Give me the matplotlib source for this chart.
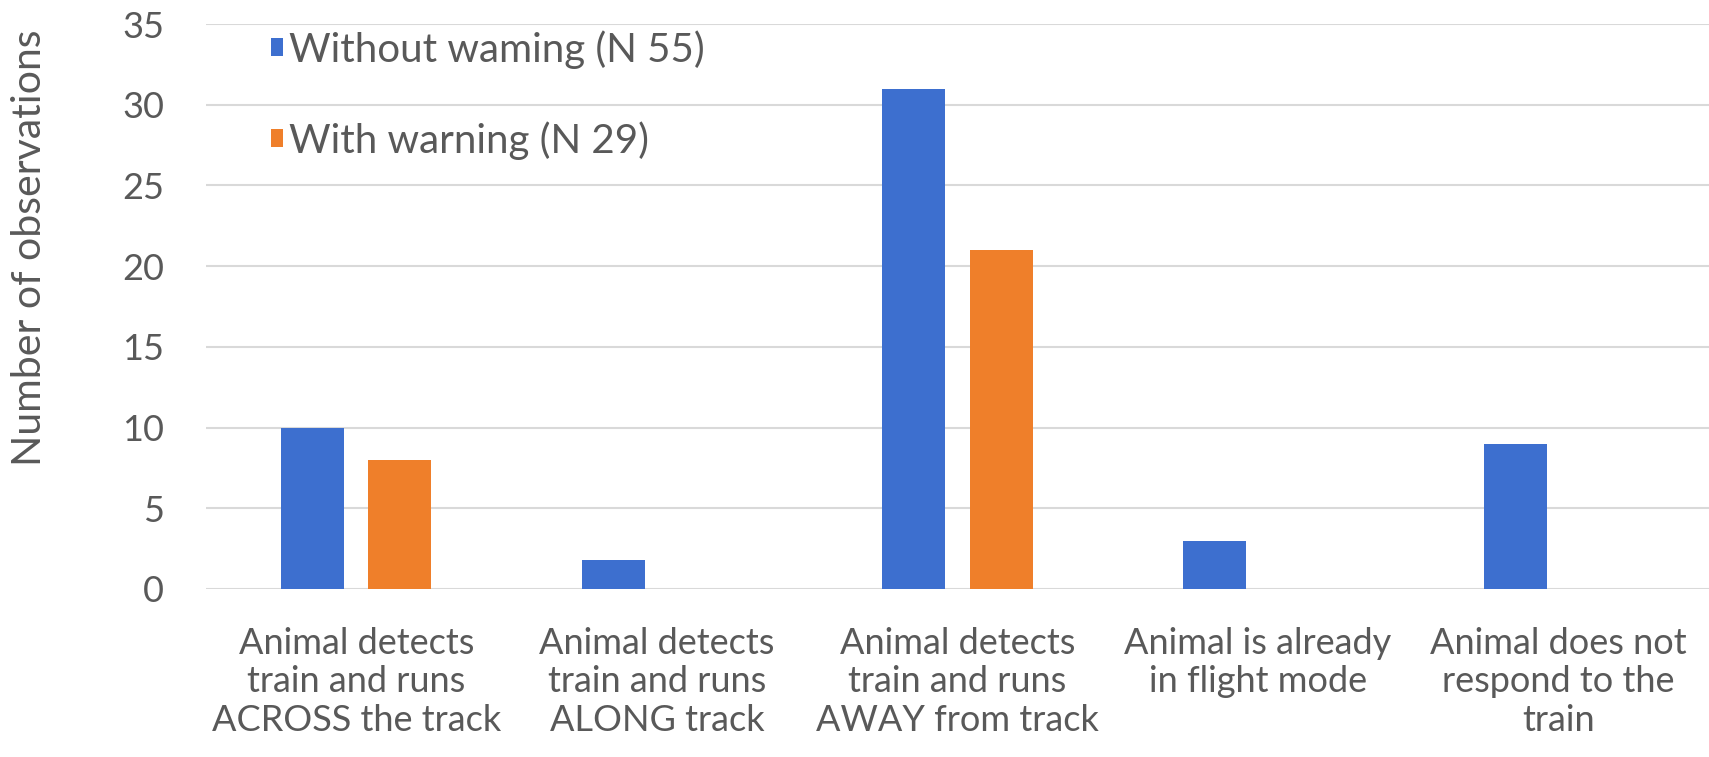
import numpy as np
import matplotlib
matplotlib.use("Agg")
import matplotlib.pyplot as plt

categories = [
    "Animal detects\ntrain and runs\nACROSS the track",
    "Animal detects\ntrain and runs\nALONG track",
    "Animal detects\ntrain and runs\nAWAY from track",
    "Animal is already\nin flight mode",
    "Animal does not\nrespond to the\ntrain",
]
without_warning = [10, 1.8, 31, 3, 9]
with_warning = [8, 0, 21, 0, 0]
series_labels = ["Without waming (N 55)", "With warning (N 29)"]
yticks = [0, 5, 10, 15, 20, 25, 30, 35]

BLUE = "#3d6fcf"
ORANGE = "#ef7f2a"
TEXT = "#595959"

plt.rcParams["font.family"] = ["Lato", "DejaVu Sans"]

fig = plt.figure(figsize=(17.09, 7.57), dpi=100)
ax = fig.add_axes([206 / 1709, 168 / 757, 1 - 206 / 1709, 565 / 757])

x = np.arange(len(categories))
w = 0.21
ax.bar(x - 0.145, without_warning, w, color=BLUE, label=series_labels[0], zorder=3)
ax.bar(x + 0.145, with_warning, w, color=ORANGE, label=series_labels[1], zorder=3)

ax.set_xlim(-0.5, len(categories) - 0.5)
ax.set_ylim(0, 35)
ax.set_yticks(yticks)
ax.set_xticks(x)
ax.set_xticklabels(categories, fontsize=26, color=TEXT, linespacing=1.22)
ax.tick_params(axis="y", labelsize=26, labelcolor=TEXT, length=0, pad=30)
ax.tick_params(axis="x", length=0, pad=27)
ax.grid(axis="y", color="#d9d9d9", linewidth=1.5, zorder=0)
for s in ax.spines.values():
    s.set_visible(False)

fig.text(30 / 1709, 1 - 248 / 757, "Number of observations", rotation=90,
         ha="center", va="center", fontsize=29.5, color=TEXT)

ax.legend(loc="upper left", bbox_to_anchor=(0.03, 1.025), frameon=False,
          fontsize=29, labelcolor=TEXT, handlelength=0.3, handleheight=0.3,
          handletextpad=0.15, labelspacing=1.3, borderpad=0)

fig.savefig("out.png", dpi=100)
